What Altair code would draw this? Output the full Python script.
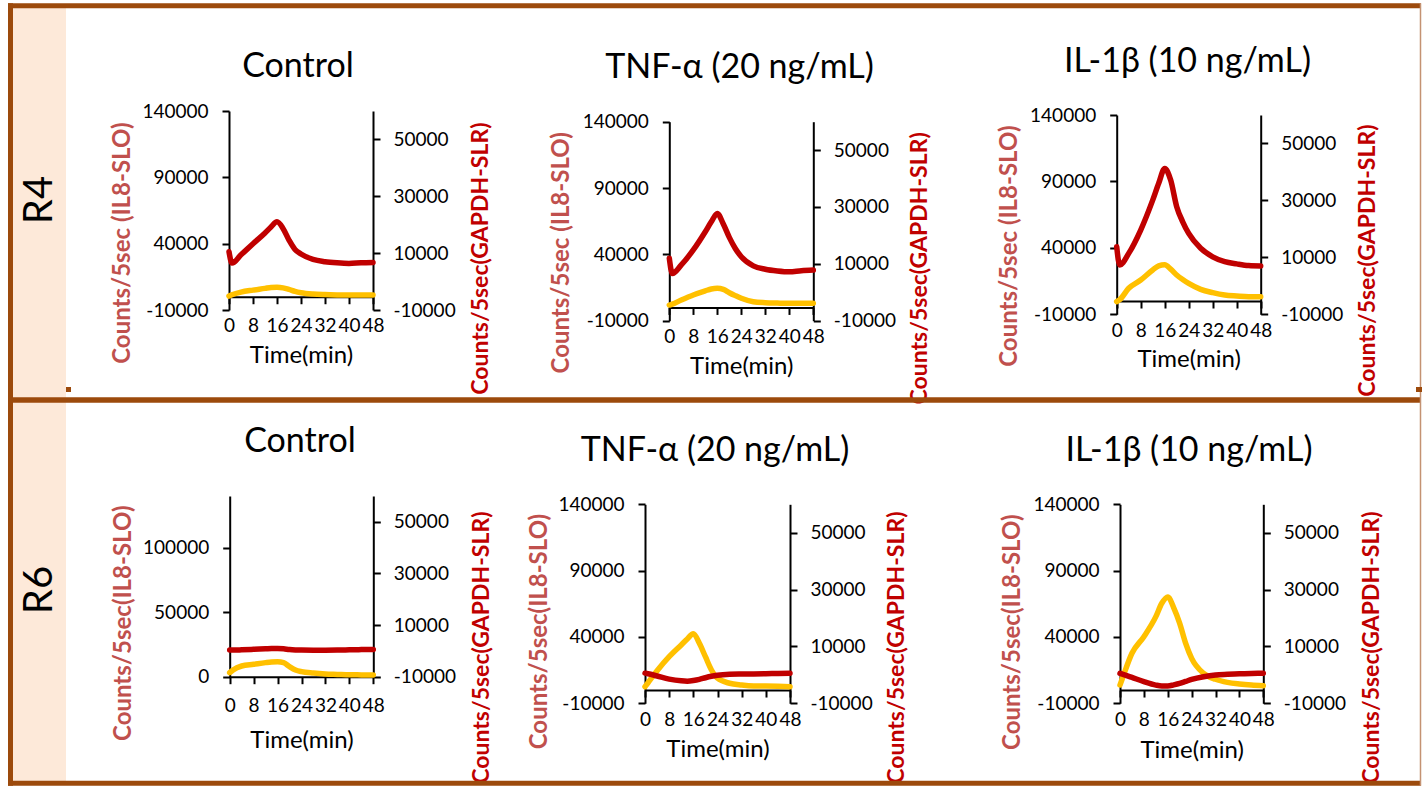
import altair as alt
import pandas as pd

# ---------------------------------------------------------------- data
TIME = [0, 1, 4, 8, 12, 14, 16, 18, 20, 22, 24, 28, 32, 36, 40, 44, 48]

# Counts per 5 s: IL8-SLO (left axis, gold) and GAPDH-SLR (right axis, red)
R4_CONTROL_IL8 = [500, 1500, 3500, 5000, 6300, 7000, 7100, 6700, 5500, 4000, 3000, 2000, 1600, 1400, 1300, 1300, 1300]
R4_CONTROL_GAPDH = [10500, 6500, 9400, 13300, 17100, 19200, 21000, 18700, 14600, 11300, 9700, 7800, 7000, 6600, 6400, 6600, 6700]
R4_TNF_IL8 = [1800, 2500, 5600, 9400, 12500, 13900, 14400, 13600, 11100, 8900, 6900, 4300, 3600, 3300, 3100, 3100, 3100]
R4_TNF_GAPDH = [12000, 6600, 9600, 14900, 21300, 24800, 27700, 24000, 19300, 15400, 12500, 9300, 8100, 7500, 7200, 7600, 7800]
R4_IL1B_IL8 = [-500, 1000, 9600, 15800, 23400, 26500, 27300, 24000, 19600, 16200, 13300, 8800, 6300, 4500, 3800, 3300, 3300]
R4_IL1B_GAPDH = [13700, 7300, 11400, 19600, 30100, 36000, 41200, 37100, 27800, 22500, 18400, 13200, 10200, 8500, 7700, 7100, 6950]
R6_CONTROL_IL8 = [3100, 5000, 8300, 9600, 10900, 11400, 11600, 10900, 7800, 5200, 3900, 2800, 2100, 1800, 1500, 1400, 1300]
R6_CONTROL_GAPDH = [300, 300, 400, 600, 800, 900, 950, 800, 500, 350, 300, 250, 250, 300, 400, 500, 550]
R6_TNF_IL8 = [2500, 5500, 14500, 25100, 34000, 38500, 42500, 35200, 25100, 15100, 8900, 5100, 3800, 3100, 3000, 2800, 2500]
R6_TNF_GAPDH = [600, 400, -400, -1500, -2100, -2200, -2000, -1600, -1000, -500, -150, 200, 300, 350, 400, 500, 550]
R6_IL1B_IL8 = [3800, 10000, 27700, 40200, 55300, 65400, 70200, 62000, 50300, 35200, 23900, 12600, 8100, 5800, 4600, 3800, 3300]
R6_IL1B_GAPDH = [550, 200, -900, -2400, -3600, -3900, -3900, -3500, -3000, -2300, -1600, -650, -50, 200, 400, 500, 550]

ROW_LABELS = ["R4", "R6"]
TREATMENTS = ["Control", "TNF-α (20 ng/mL)", "IL-1β (10 ng/mL)"]
IL8_TITLES = ["Counts/5sec (IL8-SLO)", "Counts/5sec(IL8-SLO)"]
GAPDH_TITLE = "Counts/5sec(GAPDH-SLR)"
TIME_TITLE = "Time(min)"

TIME_DOMAIN = [0, 48]
TIME_TICKS = [0, 8, 16, 24, 32, 40, 48]
IL8_DOMAIN = [-10000, 140000]
IL8_TICKS = [-10000, 40000, 90000, 140000]
IL8_DOMAIN_FROM_ZERO = [0, 140000]
IL8_TICKS_FROM_ZERO = [0, 50000, 100000]
GAPDH_DOMAIN = [-10000, 60000]
GAPDH_TICKS = [-10000, 10000, 30000, 50000]

SERIES = [
    [(R4_CONTROL_IL8, R4_CONTROL_GAPDH), (R4_TNF_IL8, R4_TNF_GAPDH), (R4_IL1B_IL8, R4_IL1B_GAPDH)],
    [(R6_CONTROL_IL8, R6_CONTROL_GAPDH), (R6_TNF_IL8, R6_TNF_GAPDH), (R6_IL1B_IL8, R6_IL1B_GAPDH)],
]

# ---------------------------------------------------------------- layout
W, H = 1422, 789
FONT = "Lato"
GOLD = "#FFC000"
RED = "#C00000"
IL8_TITLE_COLOR = "#C0504D"
BROWN = "#9C4A0C"
PEACH = "#FDE9D9"

# per panel: plot box (left, right, bottom, top), heading anchor,
# left/right axis-title anchors (centre x, top y), time-title drop below the x axis
LAYOUT = [
    [
        dict(box=(229, 373, 310, 111), head=(298, 77), left=(122.5, 122), right=(480, 122), drop=66, from_zero=False),
        dict(box=(669.3, 813.3, 320.7, 121.7), head=(739.5, 78), left=(561.7, 131.7), right=(919, 131.7), drop=66, from_zero=False),
        dict(box=(1116.7, 1260.7, 314.3, 115), head=(1187.5, 72), left=(1010, 125), right=(1367, 124), drop=65, from_zero=False),
    ],
    [
        dict(box=(229.7, 373.3, 676.7, 496), head=(300, 451.7), left=(123, 505), right=(481, 511), drop=71, from_zero=True),
        dict(box=(645, 790, 703.3, 504.3), head=(715, 460.7), left=(539, 513.3), right=(896, 511), drop=66, from_zero=False),
        dict(box=(1120, 1263.3, 703.3, 504.3), head=(1189, 460.7), left=(1012, 514), right=(1371, 511), drop=67, from_zero=False),
    ],
]

PLAIN_NUMBER = "'' + datum.value"
AXIS_STYLE = dict(
    grid=False, domainColor="black", domainWidth=2, tickColor="black", tickWidth=2,
    tickSize=7, labelFont=FONT, labelFontSize=19, labelColor="black",
    labelOverlap=False, labelExpr=PLAIN_NUMBER,
)

one_row = pd.DataFrame({"k": [0]})


def panel(row, col):
    il8, gapdh = SERIES[row][col]
    g = LAYOUT[row][col]
    x0, x1, yb, yt = g["box"]
    il8_dom = IL8_DOMAIN_FROM_ZERO if g["from_zero"] else IL8_DOMAIN
    il8_ticks = IL8_TICKS_FROM_ZERO if g["from_zero"] else IL8_TICKS
    zero_y = yb - (0 - il8_dom[0]) / (il8_dom[1] - il8_dom[0]) * (yb - yt)

    df = pd.DataFrame({"time": TIME, "il8": il8, "gapdh": gapdh})
    base = alt.Chart(df)
    x_scale = alt.Scale(domain=TIME_DOMAIN, range=[x0, x1], nice=False, zero=False)

    x_axis = alt.Axis(
        values=TIME_TICKS, orient="bottom", offset=zero_y - H,
        labelBaseline="alphabetic", labelPadding=28, labelFlush=False,
        title=TIME_TITLE, titleFont=FONT, titleFontSize=24, titleFontWeight="normal",
        titleColor="black", titleX=(x0 + x1) / 2, titleY=g["drop"],
        titleAlign="center", titleBaseline="alphabetic", **AXIS_STYLE,
    )
    il8_axis = alt.Axis(
        values=il8_ticks, orient="left", offset=-x0, labelPadding=14,
        title=IL8_TITLES[row], titleFont=FONT, titleFontSize=24, titleFontWeight="bold",
        titleColor=IL8_TITLE_COLOR, titleAngle=270, titleAlign="right", titleBaseline="middle",
        titleX=g["left"][0] - x0, titleY=g["left"][1], **AXIS_STYLE,
    )
    gapdh_axis = alt.Axis(
        values=GAPDH_TICKS, orient="right", offset=x1 - W, labelPadding=13,
        title=GAPDH_TITLE, titleFont=FONT, titleFontSize=23, titleFontWeight="bold",
        titleColor=RED, titleAngle=270, titleAlign="right", titleBaseline="middle",
        titleX=g["right"][0] - x1, titleY=g["right"][1], **AXIS_STYLE,
    )

    gold = base.mark_line(color=GOLD, strokeWidth=5.5, interpolate="monotone", strokeCap="round").encode(
        x=alt.X("time:Q", scale=x_scale, axis=x_axis),
        y=alt.Y("il8:Q", scale=alt.Scale(domain=il8_dom, range=[yb, yt], nice=False, zero=False), axis=il8_axis),
    )
    red = base.mark_line(color=RED, strokeWidth=5.5, interpolate="monotone", strokeCap="round").encode(
        x=alt.X("time:Q", scale=x_scale, axis=None),
        y=alt.Y("gapdh:Q", scale=alt.Scale(domain=GAPDH_DOMAIN, range=[yb, yt], nice=False, zero=False), axis=gapdh_axis),
    )
    heading = alt.Chart(one_row).mark_text(
        text=TREATMENTS[col], font=FONT, fontSize=34, color="black", align="center", baseline="alphabetic"
    ).encode(x=alt.value(g["head"][0]), y=alt.value(g["head"][1]))
    return [gold, red, heading]


def box(x, x2, y, y2, color):
    return alt.Chart(one_row).mark_rect(color=color).encode(
        x=alt.value(x), x2=alt.value(x2), y=alt.value(y), y2=alt.value(y2)
    )


def line(x, x2, y, y2, width, color=BROWN):
    return alt.Chart(one_row).mark_rule(color=color, strokeWidth=width).encode(
        x=alt.value(x), x2=alt.value(x2), y=alt.value(y), y2=alt.value(y2)
    )


layers = [box(13, 66, 8, 781, PEACH)]

for r, label in enumerate(ROW_LABELS):
    layers.append(
        alt.Chart(one_row).mark_text(
            text=label, font=FONT, fontSize=40, color="black", angle=270, align="center", baseline="middle"
        ).encode(x=alt.value(40), y=alt.value([200, 590][r]))
    )

for r in range(2):
    for c in range(3):
        layers.extend(panel(r, c))

# frame of the two rows
layers += [
    line(8, 1421, 5.8, 5.8, 5),
    line(8, 1421, 400, 400, 5.3),
    line(8, 1421, 783.2, 783.2, 5),
    line(10.5, 10.5, 3.3, 785.7, 5),
    line(1420.5, 1420.5, 3.3, 785.7, 1.5, "#C49272"),
    box(66, 71, 387, 392, BROWN),
    box(1416, 1422, 387, 392, BROWN),
]

chart = (
    alt.layer(*layers)
    .resolve_scale(x="independent", y="independent")
    .properties(width=W, height=H, padding=0, autosize=alt.AutoSizeParams(type="none"), background="white")
    .configure_view(strokeWidth=0)
)

chart.save("out.html", embed_options={"renderer": "svg", "actions": False})
